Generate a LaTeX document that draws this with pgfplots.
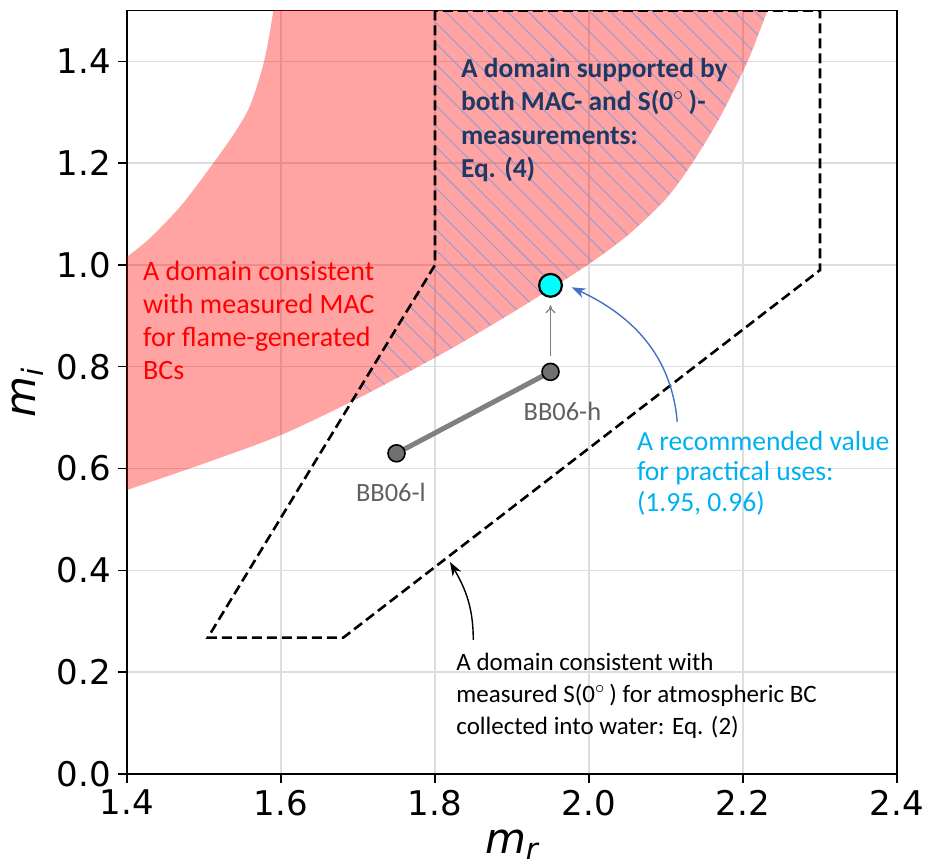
\documentclass[border=0pt]{standalone}
\usepackage{fontspec}
\setmainfont{Carlito}
\newfontfamily\dejavu{DejaVu Sans}
\usepackage{pgfplots}
\pgfplotsset{compat=1.18}
\usetikzlibrary{patterns.meta,arrows.meta}

\definecolor{navy}{HTML}{203864}
\definecolor{recblue}{HTML}{00B0F0}
\definecolor{arrowblue}{HTML}{4472C4}
\definecolor{bbgray}{HTML}{606060}
\definecolor{markgray}{HTML}{707070}
\definecolor{hatch}{HTML}{8F9CD6}
\definecolor{aqua}{rgb}{0,1,1}

\begin{document}
\begin{tikzpicture}
\begin{axis}[
  width=385pt, height=381.75pt, scale only axis,
  xmin=1.4, xmax=2.4, ymin=0, ymax=1.5,
  xtick={1.4,1.6,1.8,2.0,2.2,2.4},
  ytick={0,0.2,0.4,0.6,0.8,1.0,1.2,1.4},
  /pgf/number format/fixed,
  /pgf/number format/fixed zerofill,
  /pgf/number format/precision=1,
  tick pos=left, tick align=outside,
  major tick length=4.5pt,
  tick style={black, line width=0.7pt},
  grid=major,
  grid style={draw=black!13, line width=0.7pt},
  axis line style={line width=0.9pt},
  ticklabel style={font=\dejavu\fontsize{17}{17}\selectfont,
    /pgf/number format/assume math mode=true},
  label style={font=\dejavu\itshape\fontsize{21}{21}\selectfont},
  xlabel={m\textsubscript{r}},
  ylabel={m\textsubscript{i}},
]

% domain consistent with measured MAC (flame-generated BC)
\addplot[draw=none, fill=red, fill opacity=0.36, smooth] coordinates {
  (1.4,1.016) (1.43,1.053) (1.471,1.118) (1.512,1.2)
  (1.54,1.26) (1.56,1.314) (1.578,1.4) (1.59,1.5) (1.597,1.6)
  (1.62,1.7) (2.3,1.7)
  (2.26,1.6) (2.232,1.5) (2.206,1.4) (2.17,1.29) (2.134,1.2) (2.1,1.13)
  (2.05,1.058) (2.0,1.002) (1.95,0.953) (1.9,0.906) (1.85,0.861)
  (1.8,0.818) (1.7,0.738) (1.6,0.666) (1.5,0.61) (1.4,0.558)
} -- cycle;

% overlap of both domains (hatched)
\addplot[draw=none, pattern={Lines[angle=-45,distance=7.3pt,line width=0.45pt]},
  pattern color=hatch] coordinates {
  (1.8,1.5) (2.232,1.5) (2.219,1.45) (2.206,1.4) (2.188,1.345) (2.17,1.29)
  (2.152,1.243) (2.134,1.2) (2.117,1.164) (2.1,1.13) (2.075,1.093)
  (2.05,1.058) (2.025,1.029) (2.0,1.002) (1.975,0.977) (1.95,0.953)
  (1.925,0.929) (1.9,0.906) (1.85,0.861) (1.8,0.818) (1.75,0.777)
  (1.7,0.738) (1.692,0.732) (1.8,1.0)
} -- cycle;

% domain consistent with measured S(0)
\addplot[black, line width=1.3pt, dash pattern=on 5pt off 2.5pt] coordinates {
  (1.8,1.5) (1.8,1.0) (1.505,0.268) (1.681,0.268) (2.3,0.99) (2.3,1.5)
} -- cycle;

% BB06
\addplot[gray, line width=2.5pt] coordinates {(1.75,0.63) (1.95,0.79)};
\addplot[only marks, mark=*, mark size=4.25pt,
  mark options={fill=markgray, draw=black, line width=0.8pt}]
  coordinates {(1.75,0.63) (1.95,0.79)};

\draw[gray, line width=0.6pt, -{To[length=4pt,width=5pt]}]
  (axis cs:1.95,0.821) -- (axis cs:1.95,0.921);

% recommended value
\addplot[only marks, mark=*, mark size=5.7pt,
  mark options={fill=aqua, draw=black, line width=1.1pt}]
  coordinates {(1.95,0.96)};

\draw[arrowblue, line width=0.7pt, -{Stealth[length=7pt,width=5pt]}]
  (axis cs:2.1146,0.6921) to[out=95, in=-25] (axis cs:1.9775,0.9562);
\draw[black, line width=0.7pt, -{Stealth[length=7pt,width=5pt]}]
  (axis cs:1.8497,0.2633) to[out=90, in=-60] (axis cs:1.8195,0.4165);

\node[anchor=north west, align=left, inner sep=0pt, text=navy,
  font=\bfseries\fontsize{13.7}{16.6}\selectfont] at (axis cs:1.8333,1.4067)
  {A domain supported by\\both MAC- and S(0$^{\circ}$\,)-\\measurements:\\Eq. (4)};
\node[anchor=north west, align=left, inner sep=0pt, text=red,
  font=\fontsize{14}{16.5}\selectfont] at (axis cs:1.4204,1.0079)
  {A domain consistent\\with measured MAC\\for flame-generated\\BCs};
\node[anchor=north west, align=left, inner sep=0pt, text=recblue,
  font=\fontsize{13.8}{15.3}\selectfont] at (axis cs:2.0619,0.6745)
  {A recommended value\\for practical uses:\\(1.95, 0.96)};
\node[anchor=north west, align=left, inner sep=0pt, text=black,
  font=\fontsize{12.5}{15.9}\selectfont] at (axis cs:1.8273,0.2377)
  {A domain consistent with\\measured S(0$^{\circ}$\,) for atmospheric BC\\collected into water: Eq. (2)};
\node[anchor=north west, inner sep=0pt, text=bbgray,
  font=\fontsize{13.2}{16}\selectfont] at (axis cs:1.9147,0.7322) {BB06-h};
\node[anchor=north west, inner sep=0pt, text=bbgray,
  font=\fontsize{13.2}{16}\selectfont] at (axis cs:1.697,0.5717) {BB06-l};
\end{axis}
\pgfresetboundingbox
\path ([xshift=-63.5pt, yshift=-46.5pt]current axis.south west)
  rectangle ([xshift=15pt, yshift=5.25pt]current axis.north east);
\end{tikzpicture}
\end{document}
